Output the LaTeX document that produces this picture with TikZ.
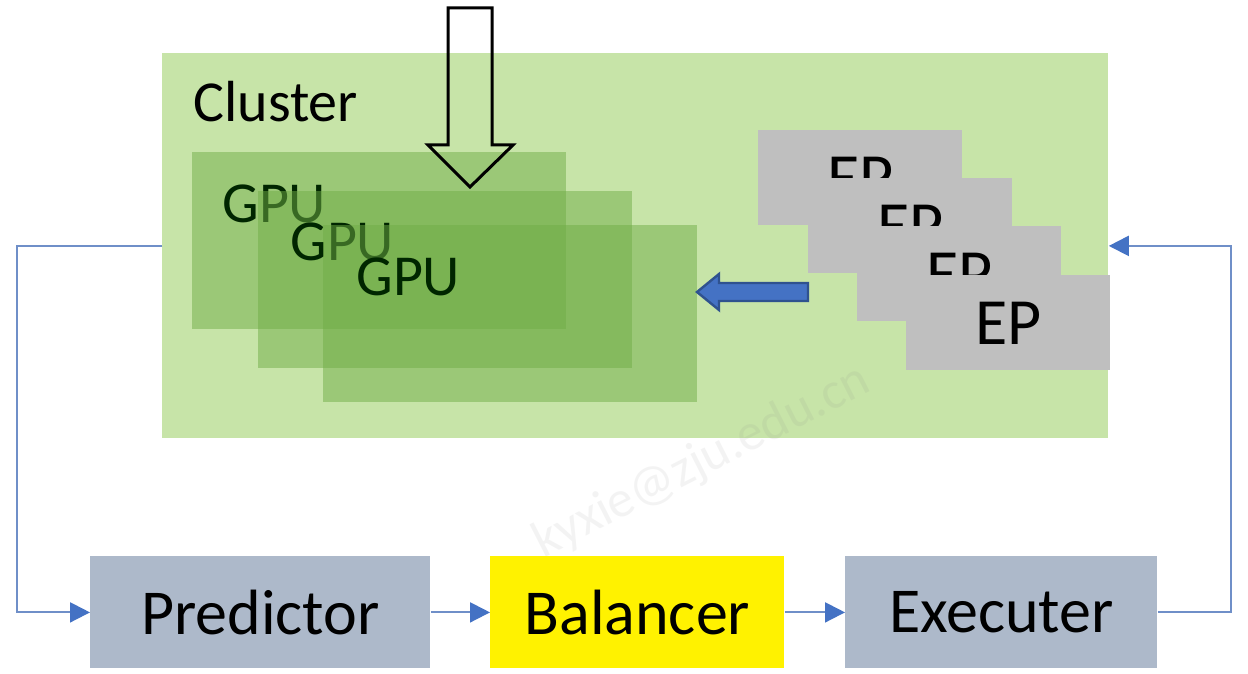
\documentclass[tikz,border=0pt]{standalone}
\usepackage{fontspec}
\setmainfont{Carlito}
\usetikzlibrary{arrows.meta}
\definecolor{clustergreen}{HTML}{C7E4A8}
\definecolor{gpugreen}{HTML}{70AD47}
\definecolor{epgray}{HTML}{BFBFBF}
\definecolor{boxblue}{HTML}{ADB9CA}
\definecolor{tipblue}{HTML}{4472C4}
\definecolor{lineblue}{HTML}{6F8FC8}
\definecolor{darkblue}{HTML}{2F528F}
\tikzset{
  gpubox/.style={fill=gpugreen,fill opacity=0.5,minimum width=187pt,minimum height=88.5pt,anchor=north west,inner sep=0pt},
  gputext/.style={anchor=base west,inner sep=0pt,font=\fontsize{29}{32}\selectfont,text=black!85!green},
  epbox/.style={fill=epgray,minimum width=102pt,minimum height=47.5pt,anchor=north west,inner sep=0pt,font=\fontsize{33}{36}\selectfont},
  stepbox/.style={minimum height=56pt,anchor=north west,inner sep=0pt,font=\fontsize{32}{36}\selectfont},
  flow/.style={draw=lineblue,line width=1pt,-{Triangle[length=10pt,width=10pt,color=tipblue]}}
}
\begin{document}
\begin{tikzpicture}[x=0.5pt,y=-0.5pt]
  \fill[white] (0,0) rectangle (1248,674);
  \useasboundingbox (0,0) rectangle (1248,674);
  % cluster
  \node[fill=clustergreen,minimum width=473pt,minimum height=192.5pt,anchor=north west,inner sep=0pt] (cluster) at (162,53) {};
  \node[anchor=base west,inner sep=0pt,font=\fontsize{29}{32}\selectfont] (clustertext) at (193,122) {Cluster};
  % watermark
  \node[rotate=27,text=gray,text opacity=0.09,font=\fontsize{26}{28}\selectfont] (mark) at (702,462) {kyxie@zju.edu.cn};
  % gpus
  \node[gpubox] (gpu1) at (192,152) {};
  \node[gputext] (gpu1t) at (222,222) {GPU};
  \node[gpubox] (gpu2) at (258,191) {};
  \node[gputext] (gpu2t) at (290,260) {GPU};
  \node[gpubox] (gpu3) at (323,225) {};
  \node[gputext] (gpu3t) at (356,295) {GPU};
  % eps
  \foreach \i/\x/\y in {1/758/130,2/808/178,3/857/226,4/906/275}
    \node[epbox] (ep\i) at (\x,\y) {EP};
  % block arrows
  \draw[line width=1.5pt,line join=miter] (448,8) -- (492,8) -- (492,145) -- (513,145) -- (470,187) -- (428,145) -- (448,145) -- cycle;
  \draw[fill=tipblue,draw=darkblue,line width=1.2pt,line join=miter] (808,283) -- (719,283) -- (719,274) -- (697,292) -- (719,310) -- (719,301) -- (808,301) -- cycle;
  % pipeline
  \node[stepbox,fill=boxblue,minimum width=170pt] (pred) at (90,556) {Predictor};
  \node[stepbox,fill=yellow,minimum width=147pt] (bal) at (490,556) {Balancer};
  \node[stepbox,fill=boxblue,minimum width=156pt] (exe) at (845,556) {Executer};
  \draw[flow] (pred) -- (bal);
  \draw[flow] (bal) -- (exe);
  \draw[flow] (exe.east) -- ++(73,0) |- (cluster.east);
  \draw[flow] (cluster.west) -- ++(-145,0) |- (pred.west);
\end{tikzpicture}
\end{document}
